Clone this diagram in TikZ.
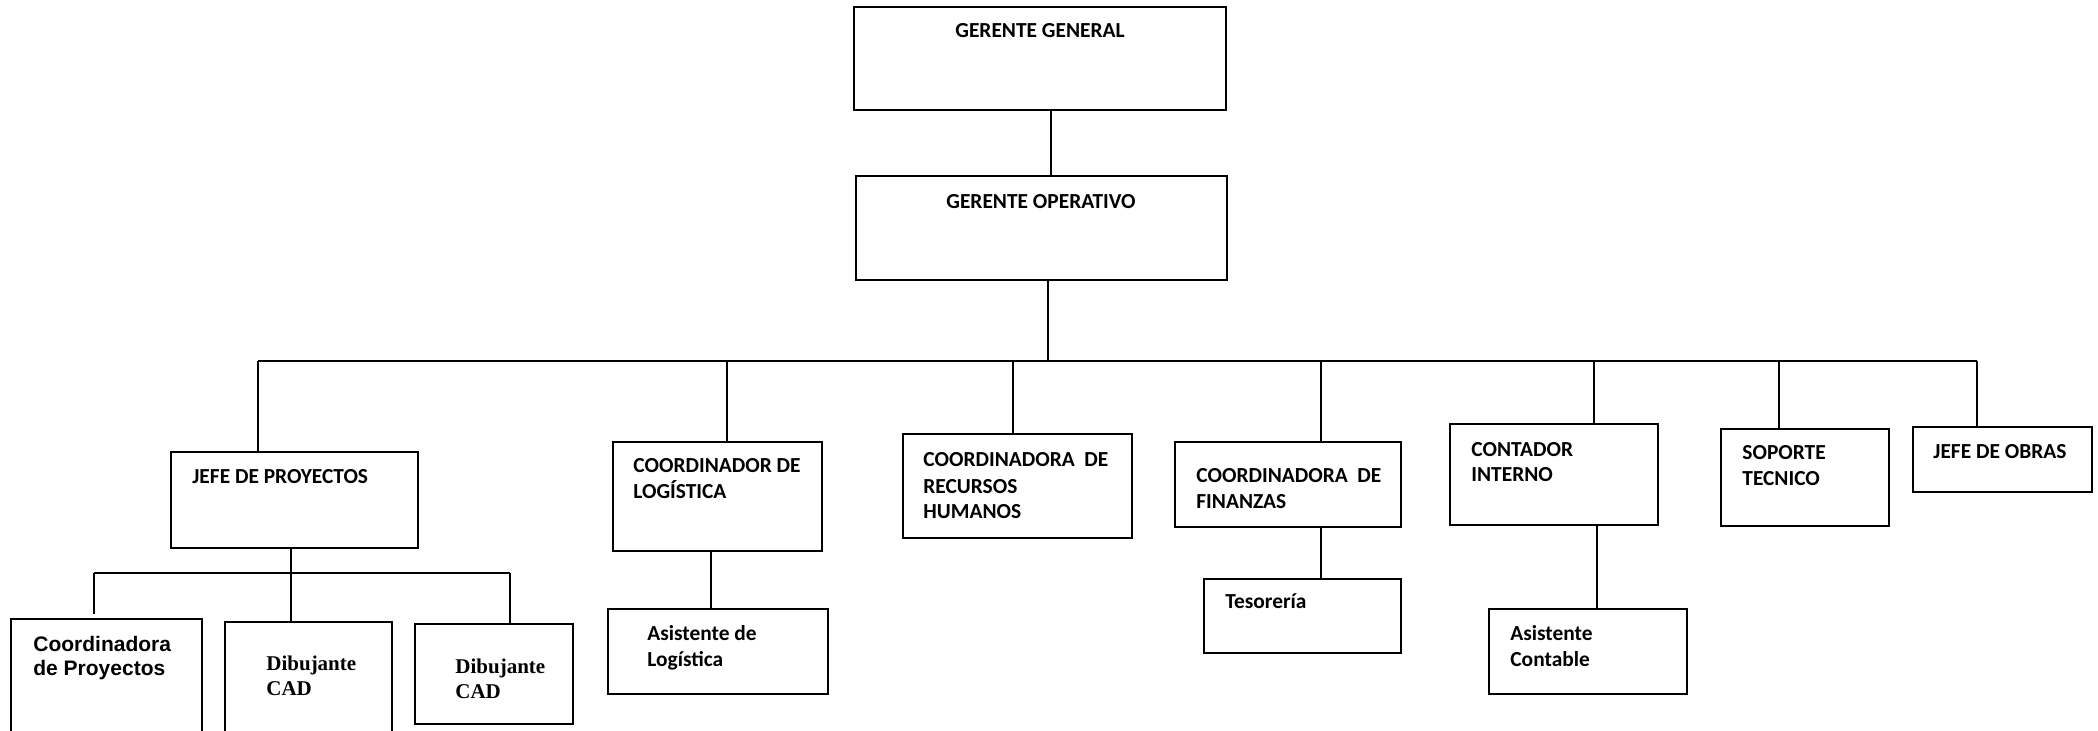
\documentclass[tikz,border=0pt]{standalone}
\usepackage{fontspec}
\newfontfamily\calfont{Carlito}
\newfontfamily\arifont{Liberation Sans}
\newfontfamily\timfont{Liberation Serif}
\usetikzlibrary{fit}
\newcommand{\orgbox}[5]{\node[box, fit={(#2,#3) (#4,#5)}] (#1) {};}
\tikzset{
	box/.style={draw, line width=1.1pt, inner sep=0pt},
	link/.style={line width=0.9pt},
	% text is placed at the baseline of its last line
	cal/.style={anchor=base west, align=left, inner sep=0pt, font={\calfont\bfseries\fontsize{10.7}{13}\selectfont}},
	ari/.style={anchor=base west, align=left, inner sep=0pt, font={\arifont\bfseries\fontsize{10.5}{12}\selectfont}},
	tim/.style={anchor=base west, align=left, inner sep=0pt, font={\timfont\bfseries\fontsize{10.5}{12.2}\selectfont}}
}

\begin{document}
\begin{tikzpicture}[x=0.5pt, y=-0.5pt]
			%%%%% START %%%%%
			\useasboundingbox (0,0) rectangle (2098,731);
			\clip (0,0) rectangle (2098,731);
			
			\orgbox{gg}{854}{7}{1226}{110}
			\orgbox{go}{856}{176}{1227}{280}
			
			\orgbox{jp}{171}{452}{418}{548}
			\orgbox{cl}{613}{442}{822}{551}
			\orgbox{rh}{903}{434}{1132}{538}
			\orgbox{fi}{1175}{442}{1401}{527}
			\orgbox{ci}{1450}{424}{1658}{525}
			\orgbox{st}{1721}{429}{1889}{526}
			\orgbox{jo}{1913}{427}{2092}{492}
			
			\orgbox{cp}{11}{619}{202}{770}
			\orgbox{d1}{225}{622}{392}{770}
			\orgbox{d2}{415}{624}{573}{724}
			\orgbox{al}{608}{609}{828}{694}
			\orgbox{te}{1204}{579}{1401}{653}
			\orgbox{ac}{1489}{609}{1687}{694}
			
			\node[cal, anchor=base] (gg-t) at (1040,38) {GERENTE GENERAL};
			\node[cal, anchor=base] (go-t) at (1041,209) {GERENTE OPERATIVO};
			\node[cal] (jp-t) at (192,484) {JEFE DE PROYECTOS};
			\node[cal] (cl-t) at (633,499) {COORDINADOR DE\\LOGÍSTICA};
			\node[cal] (rh-t) at (923,519) {COORDINADORA\ \ DE\\RECURSOS\\HUMANOS};
			\node[cal] (fi-t) at (1196,509) {COORDINADORA\ \ DE\\FINANZAS};
			\node[cal] (ci-t) at (1471,482) {CONTADOR\\INTERNO};
			\node[cal] (st-t) at (1742,486) {SOPORTE\\TECNICO};
			\node[cal] (jo-t) at (1933,459) {JEFE DE OBRAS};
			\node[cal] (te-t) at (1225,609) {Tesorería};
			\node[cal] (al-t) at (647,666) {Asistente de\\Logística};
			\node[cal] (ac-t) at (1510,666) {Asistente\\Contable};
			\node[ari] (cp-t) at (33,675) {Coordinadora\\de Proyectos};
			\node[tim] (d1-t) at (266,695) {Dibujante\\CAD};
			\node[tim] (d2-t) at (455,698) {Dibujante\\CAD};
			
			% main bus
			\coordinate (busL) at (258,361);
			\coordinate (busR) at (1977,361);
			\draw[link] ([xshift=5.5pt]gg.south) -- ([xshift=5.5pt]gg.south |- go.north);
			\draw[link] ([xshift=3.25pt]go.south) -- ([xshift=3.25pt]go.south |- busL);
			\draw[link] (busL) -- (busR);
			\draw[link] (busL) -- (busL |- jp.north);
			\draw[link] (busR) -- (busR |- jo.north);
			\foreach \n/\dx in {cl/4.75, rh/-2.25, fi/16.5, ci/20, st/-13}
				\draw[link] ([xshift=\dx pt]\n.north) -- ([xshift=\dx pt]\n.north |- busL);
			
			% second level
			\draw[link] ([xshift=-3.25pt]cl.south) -- ([xshift=-3.25pt]cl.south |- al.north);
			\draw[link] ([xshift=16.5pt]fi.south) -- ([xshift=16.5pt]fi.south |- te.north);
			\draw[link] ([xshift=21.5pt]ci.south) -- ([xshift=21.5pt]ci.south |- ac.north);
			
			\coordinate (subL) at (94,573);
			\coordinate (subR) at (510,573);
			\draw[link] ([xshift=-1.75pt]jp.south) -- ([xshift=-1.75pt]jp.south |- d1.north);
			\draw[link] (subL) -- (subR);
			\draw[link, shorten >=2pt] (subL) -- (subL |- cp.north);
			\draw[link] (subR) -- (subR |- d2.north);
			
			%%%%% END %%%%%
\end{tikzpicture}
\end{document}
